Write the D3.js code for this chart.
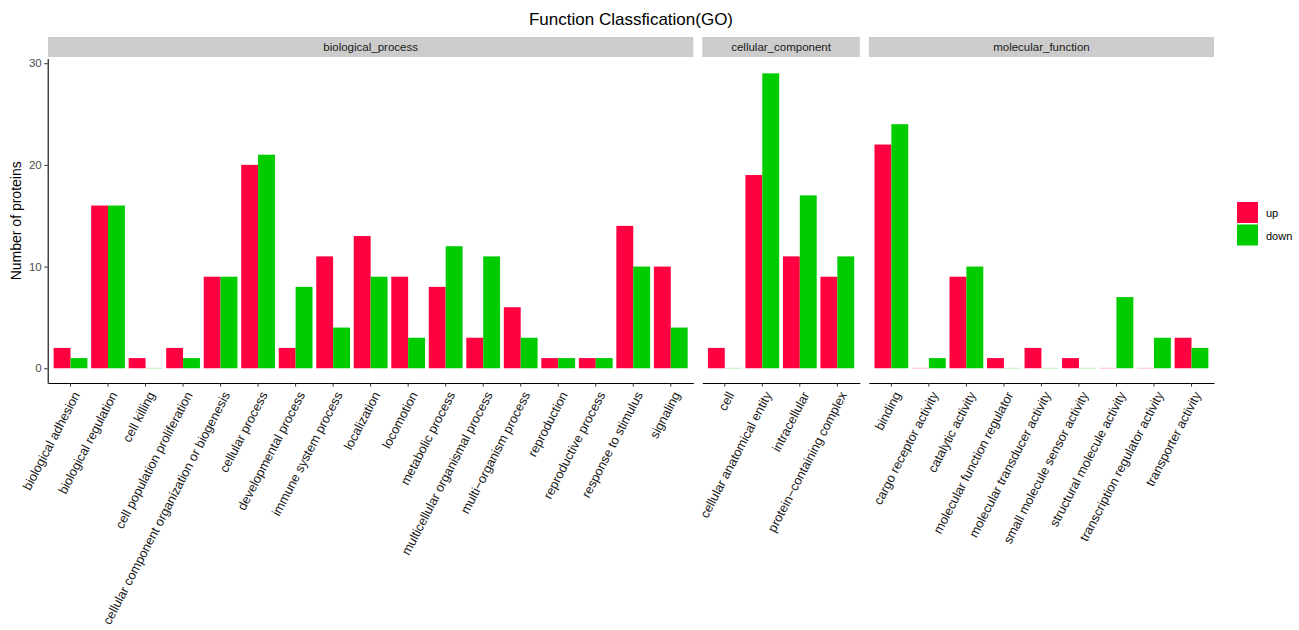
<!DOCTYPE html>
<html>
<head>
<meta charset="utf-8">
<script src="https://cdn.jsdelivr.net/npm/d3@7"></script>
<style>
  html, body { margin: 0; padding: 0; background: #fff; }
  svg { display: block; font-family: "Liberation Sans", Arial, Helvetica, sans-serif; }
</style>
</head>
<body>
<svg id="chart" width="1299" height="630"></svg>
<script>
// GO classification counts, split by ontology facet
const facets = ["biological_process", "cellular_component", "molecular_function"];

const bpTerms = ["biological adhesion", "biological regulation", "cell killing",
  "cell population proliferation", "cellular component organization or biogenesis",
  "cellular process", "developmental process", "immune system process", "localization",
  "locomotion", "metabolic process", "multicellular organismal process",
  "multi\u2212organism process", "reproduction", "reproductive process",
  "response to stimulus", "signaling"];
const bpUp   = [2, 16, 1, 2, 9, 20, 2, 11, 13, 9, 8, 3, 6, 1, 1, 14, 10];
const bpDown = [1, 16, 0, 1, 9, 21, 8, 4, 9, 3, 12, 11, 3, 1, 1, 10, 4];

const ccTerms = ["cell", "cellular anatomical entity", "intracellular",
  "protein\u2212containing complex"];
const ccUp   = [2, 19, 11, 9];
const ccDown = [0, 29, 17, 11];

const mfTerms = ["binding", "cargo receptor activity", "catalytic activity",
  "molecular function regulator", "molecular transducer activity",
  "small molecule sensor activity", "structural molecule activity",
  "transcription regulator activity", "transporter activity"];
const mfUp   = [22, 0, 9, 1, 2, 1, 0, 0, 3];
const mfDown = [24, 1, 10, 0, 0, 0, 7, 3, 2];

const groups = ["up", "down"];
const yTicks = [0, 10, 20, 30];

const colors = { up: "#FF0040", down: "#00CC00" };

const panels = [
  { name: facets[0], terms: bpTerms, up: bpUp, down: bpDown },
  { name: facets[1], terms: ccTerms, up: ccUp, down: ccDown },
  { name: facets[2], terms: mfTerms, up: mfUp, down: mfDown }
];

const svg = d3.select("#chart");

// overall plotting area
const left = 48, right = 1214, gap = 9;
const expand = 0.6;
const totalUnits = d3.sum(panels, p => p.terms.length - 1 + 2 * expand);
const unit = (right - left - gap * (panels.length - 1)) / totalUnits;

const maxVal = d3.max(panels, p => d3.max(p.up.concat(p.down)));
const pad = maxVal * 0.05;
const y = d3.scaleLinear().domain([-pad, maxVal + pad]).range([383, 58.6]);

// title
svg.append("text")
  .attr("x", (left + right) / 2).attr("y", 25)
  .attr("text-anchor", "middle")
  .attr("font-size", 17).attr("fill", "#000")
  .text("Function Classfication(GO)");

// y axis title
svg.append("text")
  .attr("transform", `translate(21,${(y.range()[0] + y.range()[1]) / 2}) rotate(-90)`)
  .attr("text-anchor", "middle")
  .attr("font-size", 14).attr("fill", "#000")
  .text("Number of proteins");

let x0 = left;
panels.forEach((p, pi) => {
  const w = (p.terms.length - 1 + 2 * expand) * unit;
  const band = d3.scaleBand().domain(p.terms)
    .range([x0, x0 + w]).paddingInner(0).paddingOuter((expand - 0.5));
  const inner = d3.scaleBand().domain(groups).range([0, band.bandwidth() * 0.9]);
  const off = band.bandwidth() * 0.05;

  const g = svg.append("g");

  // strip
  g.append("rect")
    .attr("x", x0).attr("y", 37).attr("width", w).attr("height", 20)
    .attr("fill", "#CCCCCC");
  g.append("text")
    .attr("x", x0 + w / 2).attr("y", 51)
    .attr("text-anchor", "middle")
    .attr("font-size", 11.5).attr("fill", "#1A1A1A")
    .text(p.name);

  // bars
  const rows = p.terms.map((t, i) => ({ term: t, up: p.up[i], down: p.down[i] }));
  groups.forEach(gk => {
    g.selectAll(null).data(rows).enter().append("rect")
      .attr("x", d => band(d.term) + off + inner(gk))
      .attr("y", d => y(d[gk]))
      .attr("width", inner.bandwidth())
      .attr("height", d => y(0) - y(d[gk]))
      .attr("fill", colors[gk]);
    // zero-count bars collapse to a faint hairline
    g.selectAll(null).data(rows.filter(d => d[gk] === 0)).enter().append("line")
      .attr("x1", d => band(d.term) + off + inner(gk))
      .attr("x2", d => band(d.term) + off + inner(gk) + inner.bandwidth())
      .attr("y1", y(0)).attr("y2", y(0))
      .attr("stroke", colors[gk]).attr("stroke-opacity", 0.25)
      .attr("stroke-width", 1);
  });

  // x axis
  const xAxis = g.append("g")
    .attr("transform", `translate(0,${y.range()[0]})`)
    .call(d3.axisBottom(band).tickSize(3.5).tickSizeOuter(0));
  xAxis.select(".domain").attr("stroke", "#000").attr("stroke-width", 1.1);
  xAxis.selectAll(".tick line").attr("stroke", "#333").attr("stroke-width", 1);
  xAxis.selectAll(".tick text")
    .attr("font-size", 12.8).attr("fill", "#1A1A1A")
    .attr("text-anchor", "end")
    .attr("x", 0).attr("y", 0).attr("dy", null)
    .attr("transform", "translate(1,7) rotate(-62.5) translate(0,10)");

  // y axis on first panel only
  if (pi === 0) {
    const yAxis = g.append("g")
      .attr("transform", `translate(${x0 - 0.3},0)`)
      .call(d3.axisLeft(y).tickValues(yTicks).tickSize(3.5).tickSizeOuter(0));
    yAxis.select(".domain").attr("stroke", "#000").attr("stroke-width", 1.1);
    yAxis.selectAll(".tick line").attr("stroke", "#333");
    yAxis.selectAll(".tick text")
      .attr("font-size", 11.5).attr("fill", "#4D4D4D").attr("x", -6);
  }

  x0 += w + gap;
});

// legend
const legend = svg.append("g").attr("transform", "translate(1237,202)");
groups.forEach((gk, i) => {
  legend.append("rect")
    .attr("x", 0).attr("y", i * 22.5)
    .attr("width", 21).attr("height", 21)
    .attr("fill", colors[gk]);
  legend.append("text")
    .attr("x", 29).attr("y", i * 22.5 + 15)
    .attr("font-size", 11).attr("fill", "#000")
    .text(gk);
});
</script>
</body>
</html>
